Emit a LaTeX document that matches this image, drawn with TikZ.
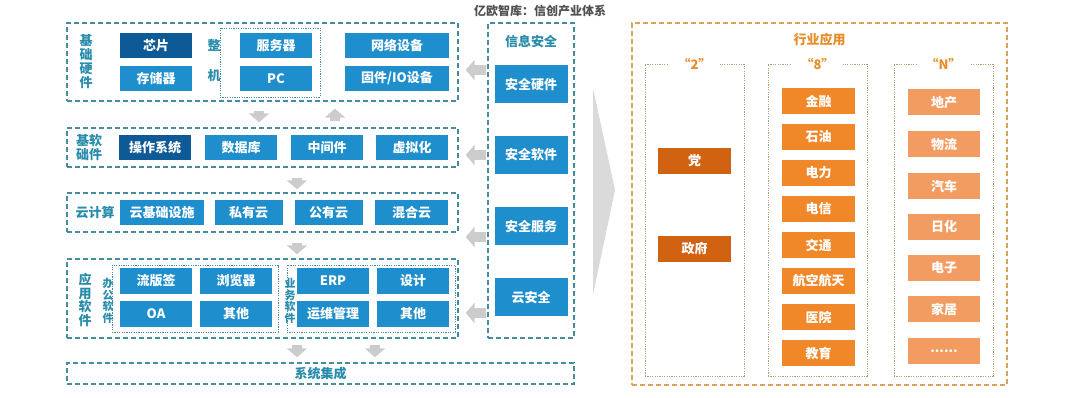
\documentclass[tikz,border=0pt]{standalone}
\usepackage{fontspec}
\setmainfont{Noto Sans CJK SC}
\usepackage{xcolor}
\usetikzlibrary{arrows.meta}
\definecolor{boxBlue}{RGB}{31, 142, 204}
\definecolor{boxDark}{RGB}{14, 90, 150}
\definecolor{lineTeal}{RGB}{70, 140, 160}
\definecolor{tagTeal}{RGB}{40, 140, 170}
\definecolor{arrGray}{RGB}{204, 204, 204}
\definecolor{chevGray}{RGB}{218, 218, 218}
\definecolor{titleGray}{RGB}{80, 80, 80}
\definecolor{orgLine}{RGB}{215, 165, 95}
\definecolor{orgDot}{RGB}{170, 162, 120}
\definecolor{orgTitle}{RGB}{232, 140, 40}
\definecolor{orgDark}{RGB}{208, 98, 18}
\definecolor{orgMid}{RGB}{240, 136, 42}
\definecolor{orgLight}{RGB}{242, 156, 98}

\begin{document}
\begin{tikzpicture}[x=1pt, y=-1pt,
        font=\bfseries\fontsize{13}{14}\selectfont,
        blk/.style={rectangle, fill=boxBlue, text=white, minimum width=72pt,
            minimum height=25pt, inner sep=0pt},
        blkdk/.style={blk, fill=boxDark},
        grp/.style={rectangle, draw=lineTeal, line width=1.3pt, dash pattern=on 5pt off 3pt,
            minimum width=391pt, inner sep=0pt},
        sub/.style={rectangle, draw=lineTeal, line width=0.8pt, dash pattern=on 1.2pt off 1.2pt,
            inner sep=0pt},
        tag/.style={text=tagTeal, align=center, inner sep=0pt},
        small/.style={tag, font=\bfseries\fontsize{11}{11.5}\selectfont},
        garr/.style={-{Triangle[length=9pt, width=20pt]}, line width=10pt, draw=arrGray},
        ogrp/.style={rectangle, draw=orgLine, line width=1.3pt, dash pattern=on 5pt off 3pt,
            inner sep=0pt},
        ocol/.style={rectangle, draw=orgDot, line width=0.9pt, dash pattern=on 1.2pt off 1.2pt,
            minimum width=99pt, minimum height=312pt, inner sep=0pt},
        otag/.style={text=orgTitle, fill=white, inner xsep=9pt, inner ysep=2pt},
        ob/.style={rectangle, text=white, minimum width=73pt, minimum height=26pt, inner sep=0pt},
        obdk/.style={ob, fill=orgDark},
        obmd/.style={ob, fill=orgMid},
        oblt/.style={ob, fill=orgLight, minimum width=72pt}
    ]
    \useasboundingbox (0,0) rectangle (1080,398);
    \node[text=titleGray, font=\bfseries\fontsize{12}{12}\selectfont] (title) at (540,11) {亿欧智库：信创产业体系};

    % left column
    \node[grp, minimum height=78pt] (hw) at (262.5,62) {};
    \node[grp, minimum height=39pt] (bs) at (262.5,147.5) {};
    \node[grp, minimum height=39pt] (cc) at (262.5,212.5) {};
    \node[grp, minimum height=79pt] (app) at (262.5,298.5) {};
    \node[grp, minimum width=507pt, minimum height=21pt, text=tagTeal] (si) at (320.5,373.5) {系统集成};

    \node[tag] (hwtag) at (86,62) {基\\础\\硬\\件};
    \node[blkdk] (chip) at (156,45.5) {芯片};
    \node[blk] (mem) at (156,78.5) {存储器};
    \node[sub, minimum width=100pt, minimum height=69pt] (whole) at (270,62.5) {};
    \node[tag] (wtag) at (214,61) {整\\[16pt]机};
    \node[blk] (srv) at (276,45.5) {服务器};
    \node[blk] (pc) at (276,78.5) {PC};
    \node[blk, minimum width=104pt] (net) at (397,45.5) {网络设备};
    \node[blk, minimum width=104pt] (fw) at (397,78.5) {固件/IO设备};

    \node[tag] (bstag) at (89,148) {基软\\础件};
    \node[blkdk] (os) at (155,147.5) {操作系统};
    \node[blk] (db) at (241,147.5) {数据库};
    \node[blk] (mw) at (327,147.5) {中间件};
    \node[blk] (virt) at (412,147.5) {虚拟化};

    \node[tag] (cctag) at (95,213) {云计算};
    \node[blk, minimum width=84pt] (infra) at (162,212.5) {云基础设施};
    \node[blk, minimum width=68pt] (priv) at (248.5,212.5) {私有云};
    \node[blk, minimum width=68pt] (pub) at (328.5,212.5) {公有云};
    \node[blk, minimum width=73pt] (hyb) at (411.5,212.5) {混合云};

    \node[tag, font=\bfseries\fontsize{13}{13.5}\selectfont] (apptag) at (85,300) {应\\用\\软\\件};
    \node[sub, minimum width=166pt, minimum height=67pt] (office) at (195,298.5) {};
    \node[sub, minimum width=168pt, minimum height=67pt] (biz) at (371,298.5) {};
    \node[small] (offtag) at (108,301) {办\\公\\软\\件};
    \node[small] (biztag) at (290,301) {业\\务\\软\\件};
    \node[blk, minimum height=26pt] (ofd) at (156,281) {流版签};
    \node[blk, minimum height=26pt] (brw) at (236,281) {浏览器};
    \node[blk, minimum height=26pt] (oa) at (156,314) {OA};
    \node[blk, minimum height=26pt] (oth) at (236,314) {其他};
    \node[blk, minimum height=26pt] (erp) at (333,281) {ERP};
    \node[blk, minimum height=26pt] (dsg) at (413,281) {设计};
    \node[blk, minimum height=26pt] (ops) at (333,314) {运维管理};
    \node[blk, minimum height=26pt] (oth2) at (413,314) {其他};

    \draw[garr, shorten <=9pt, shorten >=5pt] ([xshift=-3.5pt]hw.south) -- ([xshift=-3.5pt]bs.north);
    \draw[garr, shorten <=6pt, shorten >=7pt] ([xshift=72.5pt]bs.north) -- ([xshift=72.5pt]hw.south);
    \draw[garr, shorten <=10pt, shorten >=3pt] ([xshift=34.5pt]bs.south) -- ([xshift=34.5pt]cc.north);
    \draw[garr, shorten <=10pt, shorten >=4pt] ([xshift=34.5pt]cc.south) -- ([xshift=34.5pt]app.north);
    \draw[garr, shorten <=6pt, shorten >=5pt] ([xshift=34.5pt]app.south) -- ([xshift=34.5pt]app.south |- si.north);
    \draw[garr, shorten <=6pt, shorten >=5pt] ([xshift=112.5pt]app.south) -- ([xshift=112.5pt]app.south |- si.north);

    % security column
    \node[grp, minimum width=86pt, minimum height=315pt] (sec) at (531,180.5) {};
    \node[tag] (sectag) at (531,42) {信息安全};
    \node[blk, minimum width=73pt, minimum height=38pt] (sechw) at (531,84.5) {安全硬件};
    \node[blk, minimum width=73pt, minimum height=38pt] (secsw) at (531,155) {安全软件};
    \node[blk, minimum width=73pt, minimum height=38pt] (secsv) at (531,226.5) {安全服务};
    \node[blk, minimum width=73pt, minimum height=38pt] (secc) at (531,297.5) {云安全};

    \draw[garr, shorten <=1pt, shorten >=7pt] (sec.west |- 0,70) -- (hw.east |- 0,70);
    \draw[garr, shorten <=1pt, shorten >=7pt] (sec.west |- 0,155) -- (bs.east |- 0,155);
    \draw[garr, shorten <=1pt, shorten >=7pt] (sec.west |- 0,237) -- (cc.east |- 0,237);
    \draw[garr, shorten <=1pt, shorten >=7pt] (sec.west |- 0,313) -- (app.east |- 0,313);

    \fill[chevGray] (593,88) -- (615,190) -- (593,295) -- cycle;

    % industries
    \node[ogrp, minimum width=375pt, minimum height=362pt] (ind) at (819.5,204) {};
    \node[text=orgTitle] (indtag) at (819.5,40) {行业应用};
    \node[ocol] (c2) at (694.5,220) {};
    \node[ocol] (c8) at (817.5,220) {};
    \node[ocol] (cn) at (943.5,220) {};
    \node[otag] (t2) at (c2.north) {“2”};
    \node[otag] (t8) at (c8.north) {“8”};
    \node[otag] (tn) at (cn.north) {“N”};

    \node[obdk] (party) at (694.5,161) {党};
    \node[obdk] (gov) at (694.5,249) {政府};

    \node[obmd] (fin) at (818.5,101) {金融};
    \node[obmd] (oil) at (818.5,137) {石油};
    \node[obmd] (pwr) at (818.5,173) {电力};
    \node[obmd] (tel) at (818.5,209) {电信};
    \node[obmd] (trf) at (818.5,245) {交通};
    \node[obmd] (aero) at (818.5,281) {航空航天};
    \node[obmd] (hosp) at (818.5,317) {医院};
    \node[obmd] (edu) at (818.5,353) {教育};

    \node[oblt] (est) at (944,102.5) {地产};
    \node[oblt] (logi) at (944,144.5) {物流};
    \node[oblt] (car) at (944,186) {汽车};
    \node[oblt] (chem) at (944,227) {日化};
    \node[oblt] (elec) at (944,268) {电子};
    \node[oblt] (home) at (944,309.5) {家居};
    \node[oblt] (more) at (944,351) {......};
\end{tikzpicture}
\end{document}
